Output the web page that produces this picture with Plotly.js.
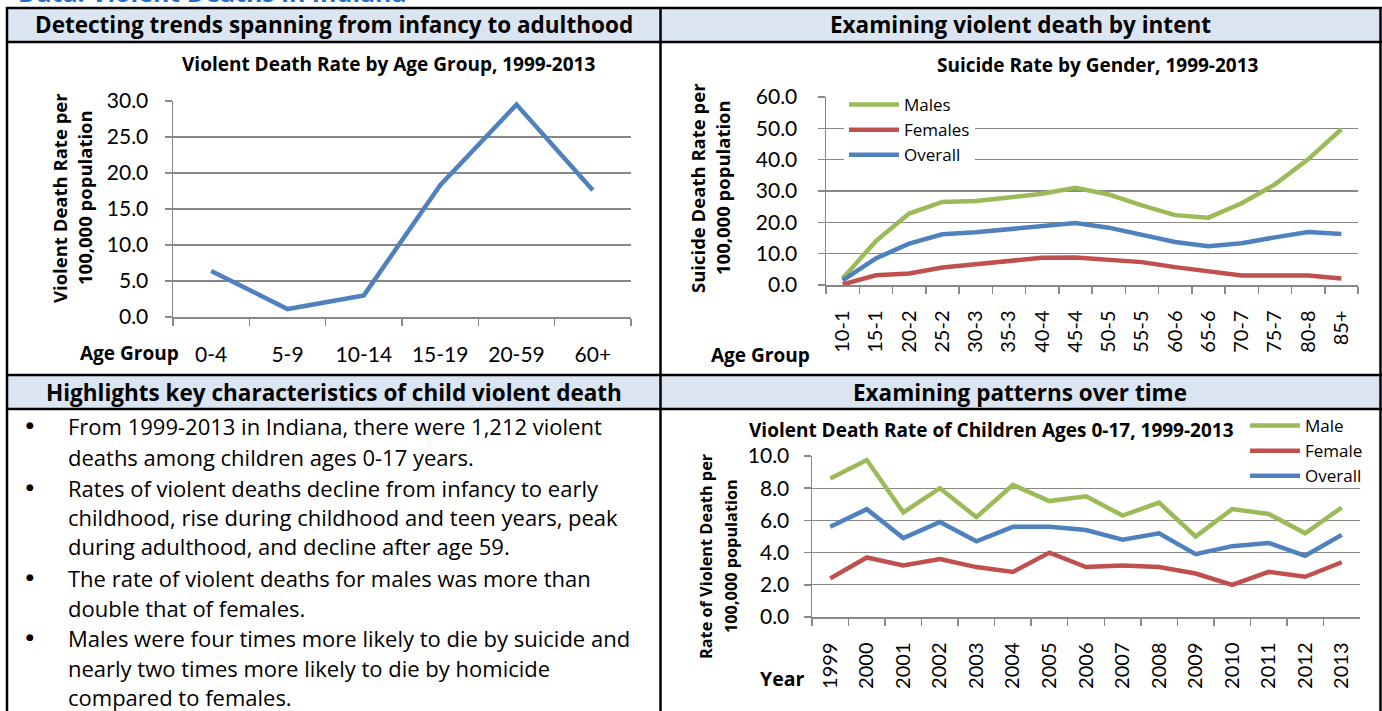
<!DOCTYPE html>
<html><head><meta charset="utf-8">
<script src="https://cdn.plot.ly/plotly-3.0.1.min.js"></script>
<style>html,body{margin:0;padding:0;background:#fff;overflow:hidden}</style>
</head><body><div id="chart" style="width:1382px;height:711px"></div>
<script>
// ---- data ----
const ageGroups = ['0-4','5-9','10-14','15-19','20-59','60+'];
const violentRate = [6.4, 1.1, 3.0, 18.3, 29.5, 17.6];

const suicideAges = ['10-1','15-1','20-2','25-2','30-3','35-3','40-4','45-4','50-5','55-5','60-6','65-6','70-7','75-7','80-8','85+'];
const suicideMales   = [2.1, 14.0, 22.8, 26.5, 26.8, 27.9, 29.1, 31.0, 28.9, 25.4, 22.3, 21.5, 26.1, 32.1, 40.1, 49.7];
const suicideFemales = [0.2, 3.1, 3.7, 5.6, 6.6, 7.7, 8.7, 8.8, 8.2, 7.3, 5.7, 4.3, 3.0, 3.0, 3.0, 2.1];
const suicideOverall = [1.5, 8.5, 13.2, 16.2, 16.8, 17.7, 18.8, 19.8, 18.3, 16.0, 13.7, 12.4, 13.3, 15.2, 16.9, 16.3];

const years = ['1999','2000','2001','2002','2003','2004','2005','2006','2007','2008','2009','2010','2011','2012','2013'];
const childMale    = [8.6, 9.75, 6.5, 8.0, 6.2, 8.2, 7.2, 7.5, 6.3, 7.1, 5.0, 6.7, 6.4, 5.2, 6.8];
const childFemale  = [2.4, 3.7, 3.2, 3.6, 3.1, 2.8, 4.0, 3.1, 3.2, 3.1, 2.7, 2.0, 2.8, 2.5, 3.4];
const childOverall = [5.6, 6.7, 4.9, 5.9, 4.7, 5.6, 5.6, 5.4, 4.8, 5.2, 3.9, 4.4, 4.6, 3.8, 5.1];

const bulletLines = [
  ['From 1999-2013 in Indiana, there were 1,212 violent', 'deaths among children ages 0-17 years.'],
  ['Rates of violent deaths decline from infancy to early', 'childhood, rise during childhood and teen years, peak', 'during adulthood, and decline after age 59.'],
  ['The rate of violent deaths for males was more than', 'double that of females.'],
  ['Males were four times more likely to die by suicide and', 'nearly two times more likely to die by homicide', 'compared to females.']
];

// ---- helpers ----
const W = 1382, H = 711;
const px = x => x / W;
const py = y => 1 - y / H;
const F = '"Open Sans", Lato, sans-serif';
const FT = 'Lato, "Open Sans", sans-serif';
const GREEN = '#9bbb59', RED = '#c0504d', BLUE = '#4f81bd';
const GRID = '#888888';

function xAxis(x0, x1, n, anchor, angle, standoff, size) {
  return {
    domain: [px(x0), px(x1)], anchor: anchor, type: 'category', range: [-0.5, n - 0.5],
    showgrid: false, zeroline: false, showline: true, linecolor: GRID, linewidth: 1.5,
    ticks: 'outside', tickson: 'boundaries', ticklen: 7, tickcolor: GRID, tickwidth: 1.5,
    tickangle: angle, ticklabelstandoff: standoff,
    tickfont: {family: FT, size: size, color: '#000'}, fixedrange: true
  };
}
function yAxis(yTop, yBot, max, dtick, anchor, standoff) {
  return {
    domain: [py(yBot), py(yTop)], anchor: anchor, range: [0, max], dtick: dtick, tickformat: '.1f',
    showgrid: true, gridcolor: GRID, gridwidth: 1.3, zeroline: false,
    showline: true, linecolor: GRID, linewidth: 1.5,
    ticks: 'outside', ticklen: 7, tickcolor: GRID, tickwidth: 1.5, ticklabelstandoff: standoff,
    tickfont: {family: FT, size: 21, color: '#000'}, fixedrange: true
  };
}
function line(x, y, color, name, xa, ya, legend, show) {
  return {x: x, y: y, type: 'scatter', mode: 'lines', name: name, xaxis: xa, yaxis: ya,
    line: {color: color, width: 4.5}, showlegend: show, legend: legend, hoverinfo: 'skip'};
}

const data = [
  line(ageGroups, violentRate, BLUE, 'Rate', 'x', 'y', 'legend', false),
  line(suicideAges, suicideMales, GREEN, 'Males', 'x2', 'y2', 'legend', true),
  line(suicideAges, suicideFemales, RED, 'Females', 'x2', 'y2', 'legend', true),
  line(suicideAges, suicideOverall, BLUE, 'Overall', 'x2', 'y2', 'legend', true),
  line(years, childMale, GREEN, 'Male', 'x3', 'y3', 'legend2', true),
  line(years, childFemale, RED, 'Female', 'x3', 'y3', 'legend2', true),
  line(years, childOverall, BLUE, 'Overall', 'x3', 'y3', 'legend2', true)
];

// ---- shapes: table ----
const shapes = [];
function rect(x0, y0, x1, y1, fill, layer) {
  shapes.push({type: 'rect', xref: 'paper', yref: 'paper', x0: px(x0), x1: px(x1), y0: py(y1), y1: py(y0),
    fillcolor: fill, line: {width: 0}, layer: layer || 'below'});
}
function hline(y, x0, x1) {
  shapes.push({type: 'line', xref: 'paper', yref: 'paper', x0: px(x0), x1: px(x1), y0: py(y), y1: py(y),
    line: {color: '#000', width: 2.5}});
}
function vline(x, y0, y1) {
  shapes.push({type: 'line', xref: 'paper', yref: 'paper', x0: px(x), x1: px(x), y0: py(y0), y1: py(y1),
    line: {color: '#000', width: 2.5}});
}
rect(7, 8, 1381, 42, '#dbe5f1');
rect(7, 375, 1381, 409, '#dbe5f1');
// white backing behind the bottom-right legend (hides the gridline there)
rect(1238, 411, 1364, 482, '#ffffff', 'above');
hline(8, 6, 1382); hline(42, 6, 1382); hline(375, 6, 1382); hline(409, 6, 1382);
vline(7, 7, 711); vline(660.5, 7, 711); vline(1380.5, 7, 711);

// ---- annotations ----
const ann = [];
function txt(text, x, y, opts) {
  ann.push(Object.assign({text: text, x: px(x), y: py(y), xref: 'paper', yref: 'paper', showarrow: false,
    xanchor: 'center', yanchor: 'middle', font: {family: F, size: 16, color: '#000'}}, opts || {}));
}
txt('<b>Data: Violent Deaths in Indiana</b>', 16, 11, {xanchor: 'left', yanchor: 'bottom', font: {family: F, size: 25, color: '#1f6fc5'}});
txt('<b>Detecting trends spanning from infancy to adulthood</b>', 334, 25, {font: {family: F, size: 22.5, color: '#000'}});
txt('<b>Examining violent death by intent</b>', 1020, 25, {font: {family: F, size: 22.5, color: '#000'}});
txt('<b>Highlights key characteristics of child violent death</b>', 334, 392, {font: {family: F, size: 22.5, color: '#000'}});
txt('<b>Examining patterns over time</b>', 1020, 392, {font: {family: F, size: 22.5, color: '#000'}});

// chart titles
txt('<b>Violent Death Rate by Age Group, 1999-2013</b>', 388, 64, {font: {family: F, size: 19, color: '#000'}});
txt('<b>Suicide Rate by Gender, 1999-2013</b>', 1098, 65, {font: {family: F, size: 19, color: '#000'}});
txt('<b>Violent Death Rate of Children Ages 0-17, 1999-2013</b>', 991, 430, {font: {family: F, size: 19, color: '#000'}});

// axis titles
txt('<b>Violent Death Rate per</b>', 60, 198, {textangle: -90, font: {family: F, size: 18.5, color: '#000'}});
txt('<b>100,000 population</b>', 85, 198, {textangle: -90, font: {family: F, size: 18.5, color: '#000'}});
txt('<b>Age Group</b>', 129, 353, {font: {family: F, size: 19, color: '#000'}});
txt('<b>Suicide Death Rate per</b>', 697, 188, {textangle: -90, font: {family: F, size: 18.5, color: '#000'}});
txt('<b>100,000 population</b>', 722, 188, {textangle: -90, font: {family: F, size: 18.5, color: '#000'}});
txt('<b>Age Group</b>', 760, 355, {font: {family: F, size: 19, color: '#000'}});
txt('<b>Rate of Violent Death per</b>', 706, 556, {textangle: -90, font: {family: F, size: 16.3, color: '#000'}});
txt('<b>100,000 population</b>', 731, 556, {textangle: -90, font: {family: F, size: 16.3, color: '#000'}});
txt('<b>Year</b>', 782, 678, {font: {family: F, size: 19.5, color: '#000'}});

// bullets
const lineYs = [426, 457, 488, 517, 546, 578, 608, 638, 668, 697];
let li = 0;
bulletLines.forEach(group => {
  txt('●', 30, lineYs[li] - 1, {font: {family: '"DejaVu Sans", sans-serif', size: 9, color: '#000'}});
  group.forEach(t => {
    txt(t, 66, lineYs[li], {xanchor: 'left', font: {family: F, size: 22, color: '#000'}});
    li++;
  });
});

const layout = {
  width: W, height: H, margin: {l: 0, r: 0, t: 0, b: 0},
  paper_bgcolor: '#fff', plot_bgcolor: '#fff',
  font: {family: F, color: '#000'},
  xaxis: xAxis(173, 631, ageGroups.length, 'y', 0, 18, 21),
  yaxis: yAxis(101, 317, 30, 5, 'x', 12),
  xaxis2: xAxis(826, 1358, suicideAges.length, 'y2', -90, 16, 20),
  yaxis2: yAxis(97, 285, 60, 10, 'x2', 16),
  xaxis3: xAxis(812, 1360, years.length, 'y3', -90, 16, 20),
  yaxis3: yAxis(456, 617, 10, 2, 'x3', 10),
  legend: {x: px(844), y: py(87), xanchor: 'left', yanchor: 'top', bgcolor: '#fff', borderwidth: 0,
    itemwidth: 50, font: {family: F, size: 17, color: '#000'}, tracegroupgap: 0},
  legend2: {x: px(1245), y: py(408), xanchor: 'left', yanchor: 'top', bgcolor: 'rgba(0,0,0,0)', borderwidth: 0,
    itemwidth: 50, font: {family: F, size: 17, color: '#000'}, tracegroupgap: 0},
  shapes: shapes,
  annotations: ann
};

Plotly.newPlot('chart', data, layout, {displayModeBar: false, staticPlot: true});
</script></body></html>
